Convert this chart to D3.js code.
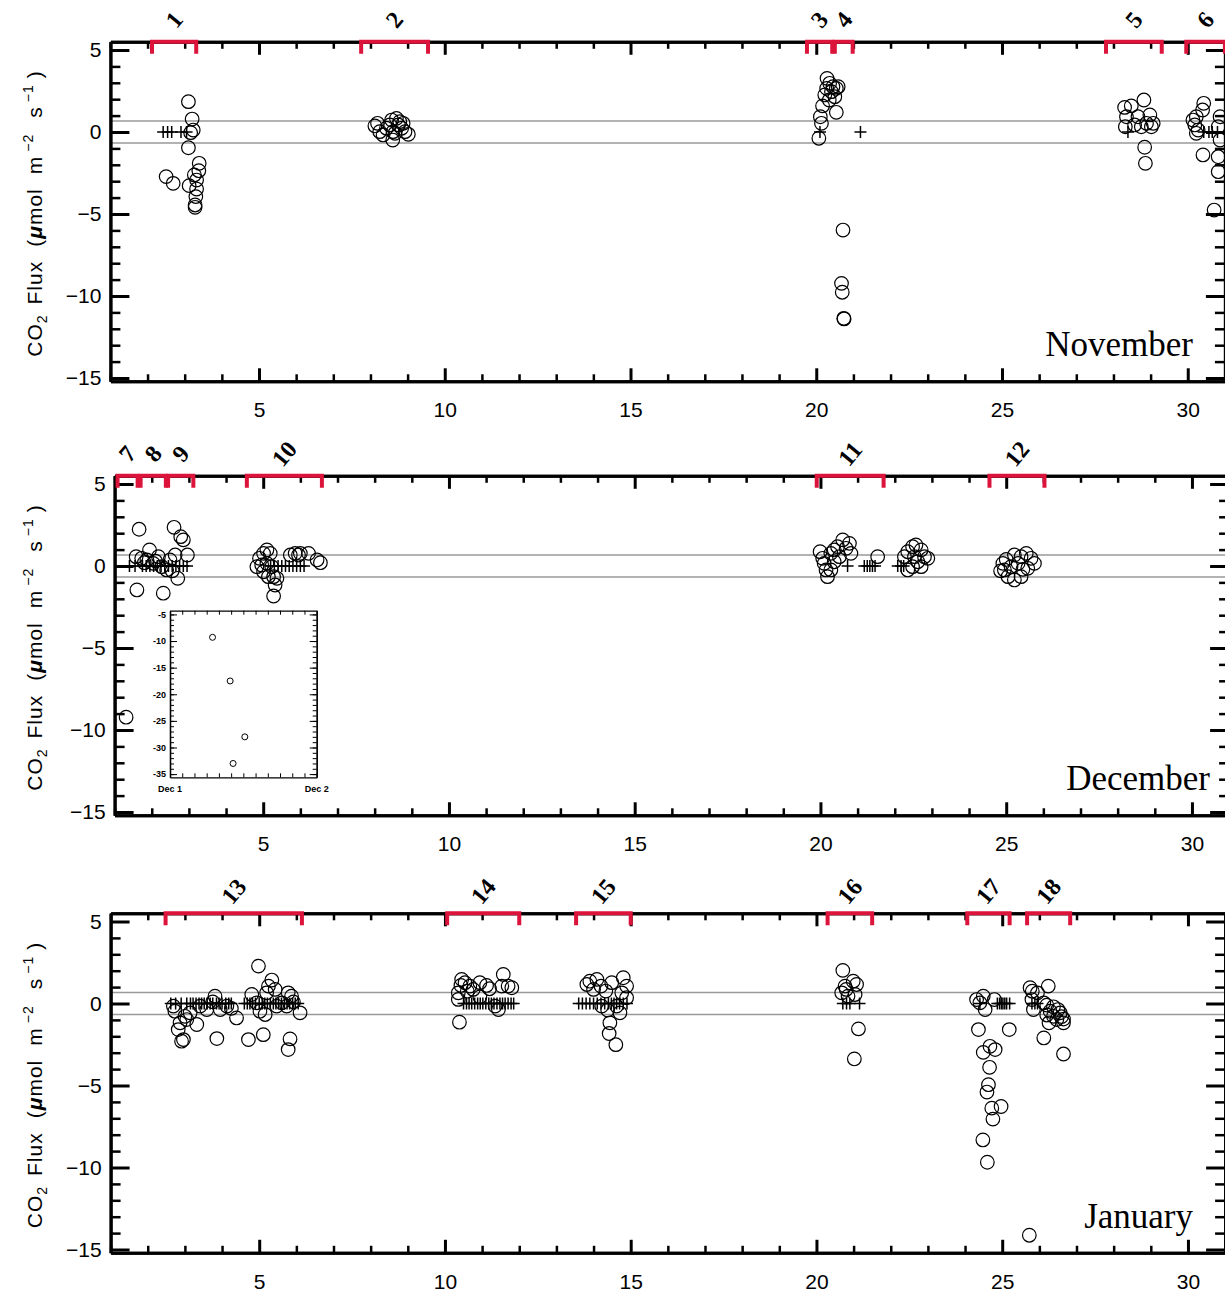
<!DOCTYPE html>
<html>
<head>
<meta charset="utf-8">
<script src="https://cdn.jsdelivr.net/npm/d3@7"></script>
<style>
body { margin: 0; background: white; }
text { font-family: "Liberation Sans", Arial, sans-serif; }
</style>
</head>
<body>
<svg id="chart" width="1225" height="1294"></svg>
<script>
// ---- data (day of month, CO2 flux) ----
var novCircles = [
	[3.10,1.85],[3.20,0.79],[3.23,0.12],[3.16,-0.04],[3.10,-0.96],[3.39,-1.91],[3.38,-2.36],[2.50,-2.72],
	[2.69,-3.13],[3.26,-2.62],[3.32,-2.93],[3.12,-3.27],[3.32,-3.48],[3.30,-3.94],[3.28,-4.45],[3.28,-4.59],
	[8.12,0.37],[8.19,0.53],[8.25,0.02],[8.34,-0.18],[8.43,0.23],[8.52,0.43],[8.60,-0.49],[8.61,0.02],
	[8.70,0.83],[8.75,0.43],[8.79,0.63],[8.84,0.23],[8.88,0.53],[8.93,0.02],[9.02,-0.14],[8.66,-0.08],[8.57,0.73],
	[20.07,-0.38],[20.14,0.53],[20.11,0.93],[20.17,1.59],[20.23,2.26],[20.28,2.66],[20.29,3.27],[20.36,2.97],
	[20.45,2.76],[20.54,2.66],[20.59,2.76],[20.50,2.15],[20.54,1.20],[20.41,2.46],[20.35,1.95],
	[20.72,-5.98],[20.68,-9.23],[20.70,-9.77],[20.74,-11.36],[20.75,-11.40],
	[28.30,1.50],[28.48,1.59],[28.82,1.95],[28.35,0.93],[28.32,0.32],[28.66,0.93],[28.57,0.43],[28.75,0.32],
	[28.89,0.53],[28.98,1.04],[29.02,0.32],[29.07,0.53],[28.84,-0.93],[28.86,-1.91],
	[30.43,1.75],[30.40,1.34],[30.23,0.93],[30.19,0.43],[30.28,0.12],[30.23,-0.08],[30.41,-1.40],[30.82,-1.51],
	[30.82,-2.42],[30.71,-4.76],[30.87,0.93],[30.82,0.32],[30.87,-0.49],[30.14,0.73]
];
var novPluses = [2.42,2.54,2.65,2.90,3.05,20.10,21.19,28.39,30.43,30.57,30.66,30.80];

var decCircles = [
	[1.66,2.24],[1.60,-1.46],[1.58,0.57],[1.73,0.47],[1.94,0.98],[1.87,0.37],[2.04,0.16],[2.18,0.57],
	[2.27,-0.04],[2.31,-1.66],[2.40,-0.24],[2.60,2.36],[2.78,1.79],[2.85,1.59],[2.96,0.67],[2.70,-0.75],
	[2.63,0.67],[2.49,0.37],[1.31,-9.22],[1.80,0.20],[2.10,0.30],[2.55,-0.30],
	[4.96,0.06],[5.01,0.77],[5.10,0.98],[5.19,0.77],[4.90,0.47],[4.83,-0.04],[5.01,-0.35],[5.14,-0.65],
	[5.28,-0.65],[5.37,-0.75],[5.32,-1.16],[5.28,-1.83],[5.10,0.16],[5.23,-0.04],[5.73,0.67],[5.86,0.77],
	[5.95,0.67],[6.00,0.77],[6.22,0.77],[6.54,0.20],[6.45,0.37],
	[19.99,0.87],[20.06,0.47],[20.10,0.16],[20.19,-0.65],[20.15,-0.24],[20.28,0.77],[20.37,0.98],[20.46,1.18],
	[20.60,1.59],[20.69,1.08],[20.78,1.38],[20.82,0.77],[20.51,0.57],[20.37,0.26],[20.28,-0.24],[21.54,0.57],
	[22.26,0.57],[22.35,0.87],[22.48,1.18],[22.57,1.28],[22.71,0.98],[22.80,0.57],[22.89,0.47],[22.35,-0.24],
	[22.48,-0.04],[22.62,0.26],[22.71,-0.04],[22.53,0.57],
	[24.91,0.16],[24.95,-0.24],[25.05,-0.65],[25.22,-0.85],[25.40,-0.65],[25.13,-0.04],[25.32,0.16],[25.40,0.57],
	[25.54,0.77],[25.67,0.47],[25.76,0.16],[25.58,-0.14],[25.22,0.67],[25.00,0.40],[24.85,-0.30],[25.45,-0.20]
];
var decPluses = [1.40,1.55,1.75,1.85,1.95,2.05,2.15,2.25,2.35,2.45,2.55,2.65,2.75,2.85,2.95,
	5.20,5.30,5.40,5.50,5.60,5.70,5.80,5.90,6.00,6.10,20.73,21.18,21.26,21.33,21.40,21.47,22.08,22.17,22.24];

var janCircles = [
	[4.98,2.28],[5.34,1.43],[5.25,1.06],[5.43,0.86],[5.20,0.65],[4.80,0.55],[3.81,0.45],[5.78,0.65],[5.87,0.45],
	[6.10,-0.57],[5.83,-2.16],[5.78,-2.81],[5.11,-1.90],[4.71,-2.20],[3.86,-2.14],[4.39,-0.88],[2.91,-2.30],
	[2.96,-2.20],[2.73,-0.47],[2.87,-1.18],[3.05,-0.98],[2.82,-1.59],[3.00,-0.78],[3.14,-0.57],[3.32,-1.28],
	[3.41,-0.16],[3.59,-0.37],[3.95,-0.37],[4.13,-0.16],[4.25,-0.30],[4.93,0.04],[5.02,-0.47],[5.16,-0.67],
	[5.47,-0.16],[5.61,0.04],[5.74,-0.16],[5.92,0.10],[3.75,0.10],[2.69,-0.16],
	[10.39,-1.14],[10.36,0.65],[10.45,1.47],[10.54,1.27],[10.43,1.10],[10.60,0.75],[10.67,1.06],[10.76,0.86],
	[10.94,1.27],[11.12,1.10],[11.20,0.90],[11.35,-0.16],[11.44,-0.37],[11.53,1.06],[11.57,1.77],[11.70,1.06],
	[11.80,0.96],[10.36,0.25],[10.94,0.40],
	[13.82,1.16],[13.90,1.36],[14.09,1.47],[14.00,0.86],[14.20,1.06],[14.33,0.76],[14.80,1.57],[14.89,1.06],
	[14.76,0.65],[14.89,0.35],[14.49,1.27],[14.62,-0.16],[14.71,-0.57],[14.44,-1.18],[14.42,-1.83],[14.60,-2.51],
	[14.22,-0.16],[14.38,-0.40],
	[20.71,2.02],[20.77,1.06],[20.99,1.36],[21.08,1.16],[20.68,0.65],[20.80,0.86],[21.04,0.55],[21.13,-1.55],
	[21.02,-3.38],[20.85,0.45],
	[24.31,0.24],[24.40,0.04],[24.49,0.45],[24.54,-0.37],[24.36,-1.59],[24.67,-2.61],[24.49,-2.98],[24.81,-2.81],
	[24.66,-3.89],[24.63,-4.95],[24.59,-5.40],[24.72,-6.38],[24.97,-6.28],[24.75,-7.05],[24.48,-8.32],[24.60,-9.68],
	[24.79,0.24],[25.19,-1.59],
	[25.75,0.96],[25.81,0.75],[26.24,1.06],[25.80,0.24],[25.84,-0.37],[25.95,0.65],[26.12,0.04],[26.20,-0.10],
	[26.29,-0.47],[26.38,-0.78],[26.47,-0.98],[26.56,-0.57],[26.65,-1.18],[26.12,-2.10],[26.65,-3.08],[26.26,-1.18],
	[26.38,-0.20],[26.50,-0.37],[26.60,-0.80],[26.65,-0.95],[26.20,-0.70],[25.73,-14.13]
];
var janPluses = [2.62,2.75,2.90,3.05,3.15,3.22,3.30,3.38,3.45,3.52,3.60,3.68,3.75,3.85,3.92,4.00,4.10,4.18,4.25,
	4.60,4.68,4.75,4.82,4.90,5.00,5.08,5.15,5.22,5.30,5.38,5.45,5.52,5.60,5.68,5.75,5.82,5.90,5.97,6.05,
	10.50,10.58,10.65,10.72,10.80,10.88,10.95,11.02,11.10,11.18,11.25,11.32,11.40,11.48,11.55,11.62,11.70,11.78,11.85,
	13.60,13.70,13.80,13.90,14.00,14.10,14.20,14.30,14.40,14.48,14.55,14.62,14.70,14.80,14.90,
	20.71,20.81,20.90,21.16,24.40,24.87,24.93,24.98,25.02,25.07,25.12,25.20,25.80,25.88,25.95];

// events: label, start day, end day
var novEvents = [["1",2.12,3.31],["2",7.75,9.55],["3",19.75,20.43],["4",20.50,20.98],["5",27.80,29.30],["6",29.96,31]];
var decEvents = [["7",1.08,1.62],["8",1.70,2.38],["9",2.44,3.12],["10",4.56,6.58],["11",19.90,21.70],["12",24.55,26.03]];
var janEvents = [["13",2.48,6.15],["14",10.06,12.00],["15",13.53,15.00],["16",20.30,21.50],["17",24.06,25.20],["18",25.67,26.83]];

var xTicks = [5,10,15,20,25,30];
var yTicks = [5,0,-5,-10,-15];
var bandLimit = 0.67;

// inset (fraction of Dec 1, flux)
var insetPoints = [[0.29,-9.3],[0.41,-17.5],[0.51,-28.0],[0.43,-33.0]];
var insetYTicks = [-5,-10,-15,-20,-25,-30,-35];

var svg = d3.select("#chart"),
	plotW = 30 * 37.15,
	unit = 16.4,
	red = "#dc143c";

var panels = [
	{ month: "November", circles: novCircles, pluses: novPluses, events: novEvents, left: 110.4, zero: 132, monthX: 1193 },
	{ month: "December", circles: decCircles, pluses: decPluses, events: decEvents, left: 114.6, zero: 566, monthX: 1210 },
	{ month: "January", circles: janCircles, pluses: janPluses, events: janEvents, left: 110.6, zero: 1003.5, monthX: 1193 }
];

function styleAxis(a, w) {
	a.select(".domain").attr("stroke", "#000").attr("stroke-width", 3);
	a.selectAll(".tick line").attr("stroke", "#000").attr("stroke-width", w);
	a.selectAll(".tick text").style("font-size", "21px").attr("fill", "#000");
}

function drawPanel(p) {
	var top = p.zero - 5.5 * unit,
		bottom = p.zero + 15.2 * unit;
	var x = d3.scaleLinear().domain([1, 31]).range([p.left, p.left + plotW]);
	var y = d3.scaleLinear().domain([-15.2, 5.5]).range([bottom, top]);
	var right = p.left + plotW;
	var g = svg.append("g");

	// +/- band lines
	g.selectAll("line.band")
		.data([bandLimit, -bandLimit])
		.enter().append("line")
		.attr("x1", p.left).attr("x2", right)
		.attr("y1", function (d) { return y(d); })
		.attr("y2", function (d) { return y(d); })
		.attr("stroke", "#999").attr("stroke-width", 1.3);

	var days = d3.range(1, 32).filter(function (d) { return d % 5 != 0; });
	var units = d3.range(-15, 6).filter(function (d) { return d % 5 != 0; });

	// minor ticks
	styleAxis(g.append("g").attr("transform", "translate(0," + bottom + ")")
		.call(d3.axisBottom(x).tickValues(days).tickSize(-7).tickSizeOuter(0).tickFormat("")), 2.5);
	styleAxis(g.append("g").attr("transform", "translate(0," + top + ")")
		.call(d3.axisTop(x).tickValues(days).tickSize(-7).tickSizeOuter(0).tickFormat("")), 2.5);
	styleAxis(g.append("g").attr("transform", "translate(" + p.left + ",0)")
		.call(d3.axisLeft(y).tickValues(units).tickSize(-10).tickSizeOuter(0).tickFormat("")), 2.5);
	styleAxis(g.append("g").attr("transform", "translate(" + right + ",0)")
		.call(d3.axisRight(y).tickValues(units).tickSize(-10).tickSizeOuter(0).tickFormat("")), 2.5);

	// major ticks + labels
	styleAxis(g.append("g").attr("transform", "translate(0," + bottom + ")")
		.call(d3.axisBottom(x).tickValues(xTicks).tickSize(-13).tickSizeOuter(0).tickPadding(21)), 3);
	styleAxis(g.append("g").attr("transform", "translate(0," + top + ")")
		.call(d3.axisTop(x).tickValues(xTicks).tickSize(-13).tickSizeOuter(0).tickFormat("")), 3);
	styleAxis(g.append("g").attr("transform", "translate(" + p.left + ",0)")
		.call(d3.axisLeft(y).tickValues(yTicks).tickSize(-19).tickSizeOuter(0).tickPadding(9)), 3);
	styleAxis(g.append("g").attr("transform", "translate(" + right + ",0)")
		.call(d3.axisRight(y).tickValues(yTicks).tickSize(-19).tickSizeOuter(0).tickFormat("")), 3);

	// points
	g.selectAll("circle.pt")
		.data(p.circles)
		.enter().append("circle")
		.attr("cx", function (d) { return x(d[0]); })
		.attr("cy", function (d) { return y(d[1]); })
		.attr("r", 6.8)
		.attr("fill", "none")
		.attr("stroke", "#000")
		.attr("stroke-width", 1.2);

	g.selectAll("path.plus")
		.data(p.pluses)
		.enter().append("path")
		.attr("transform", function (d) { return "translate(" + x(d) + "," + y(0) + ")"; })
		.attr("d", "M-6,0H6M0,-6V6")
		.attr("stroke", "#000")
		.attr("stroke-width", 1.5);

	// event brackets
	g.selectAll("path.bracket")
		.data(p.events)
		.enter().append("path")
		.attr("d", function (d) {
			return "M" + x(d[1]) + "," + (top + 12) + "V" + top + "H" + x(d[2]) + "V" + (top + 12);
		})
		.attr("fill", "none")
		.attr("stroke", red)
		.attr("stroke-width", 4);

	g.selectAll("text.evt")
		.data(p.events)
		.enter().append("text")
		.attr("transform", function (d) {
			return "translate(" + x((d[1] + d[2]) / 2) + "," + (top - 22) + ") rotate(-50)";
		})
		.attr("text-anchor", "middle")
		.attr("dominant-baseline", "central")
		.style("font-family", "'Liberation Serif', serif")
		.style("font-weight", "bold")
		.style("font-size", "24px")
		.text(function (d) { return d[0]; });

	// month
	g.append("text")
		.attr("x", p.monthX)
		.attr("y", bottom - 25)
		.attr("text-anchor", "end")
		.style("font-family", "'Liberation Serif', serif")
		.style("font-size", "35px")
		.text(p.month);

	// y title
	var t = g.append("text")
		.attr("transform", "translate(42," + ((top + bottom) / 2 + 2) + ") rotate(-90)")
		.attr("text-anchor", "middle")
		.style("font-size", "21px")
		.style("letter-spacing", "1px");
	t.append("tspan").text("CO");
	t.append("tspan").attr("dy", 5).style("font-size", "14px").text("2");
	t.append("tspan").attr("dy", -5).attr("dx", 10).text("Flux");
	t.append("tspan").attr("dx", 14).text("(");
	t.append("tspan").style("font-style", "italic").style("font-weight", "bold").text("\u03bc");
	t.append("tspan").text("mol");
	t.append("tspan").attr("dx", 14).text("m");
	t.append("tspan").attr("dy", -9).attr("dx", 4).style("font-size", "14px").text("\u22122");
	t.append("tspan").attr("dy", 9).attr("dx", 16).text("s");
	t.append("tspan").attr("dy", -9).attr("dx", 4).style("font-size", "14px").text("\u22121");
	t.append("tspan").attr("dy", 9).attr("dx", 6).text(")");
}

function drawInset() {
	var ix = d3.scaleLinear().domain([0, 1]).range([170, 316.7]);
	var iy = d3.scaleLinear().domain([-35.6, -4.3]).range([777.3, 610.7]);
	var g = svg.append("g");
	g.append("rect").attr("x", 170).attr("y", 610.7).attr("width", 146.7).attr("height", 166.6)
		.attr("fill", "white");
	var hrs = d3.range(0, 13).map(function (d) { return d / 12; });
	var fine = d3.range(-35, -4);
	function thin(a) {
		a.select(".domain").attr("stroke", "#000").attr("stroke-width", 1.3);
		a.selectAll(".tick line").attr("stroke", "#000").attr("stroke-width", 1);
		a.selectAll(".tick text").style("font-size", "9px").style("font-weight", "bold").attr("fill", "#000");
	}
	thin(g.append("g").attr("transform", "translate(0,777.3)")
		.call(d3.axisBottom(ix).tickValues(hrs).tickSize(-4).tickSizeOuter(0).tickFormat("")));
	thin(g.append("g").attr("transform", "translate(0,610.7)")
		.call(d3.axisTop(ix).tickValues(hrs).tickSize(-4).tickSizeOuter(0).tickFormat("")));
	thin(g.append("g").attr("transform", "translate(170,0)")
		.call(d3.axisLeft(iy).tickValues(fine).tickSize(-4).tickSizeOuter(0).tickFormat("")));
	thin(g.append("g").attr("transform", "translate(316.7,0)")
		.call(d3.axisRight(iy).tickValues(fine).tickSize(-4).tickSizeOuter(0).tickFormat("")));
	thin(g.append("g").attr("transform", "translate(170,0)")
		.call(d3.axisLeft(iy).tickValues(insetYTicks).tickSize(-7).tickSizeOuter(0).tickPadding(4)
			.tickFormat(function (d) { return "-" + Math.abs(d); })));
	thin(g.append("g").attr("transform", "translate(316.7,0)")
		.call(d3.axisRight(iy).tickValues(insetYTicks).tickSize(-7).tickSizeOuter(0).tickFormat("")));

	g.selectAll("text.day")
		.data(["Dec 1", "Dec 2"])
		.enter().append("text")
		.attr("x", function (d, i) { return ix(i); })
		.attr("y", 792)
		.attr("text-anchor", "middle")
		.style("font-size", "9px")
		.style("font-weight", "bold")
		.text(function (d) { return d; });

	g.selectAll("circle")
		.data(insetPoints)
		.enter().append("circle")
		.attr("cx", function (d) { return ix(d[0]); })
		.attr("cy", function (d) { return iy(d[1]); })
		.attr("r", 3)
		.attr("fill", "none")
		.attr("stroke", "#000")
		.attr("stroke-width", 1);
}

panels.forEach(drawPanel);
drawInset();
</script>
</body>
</html>
